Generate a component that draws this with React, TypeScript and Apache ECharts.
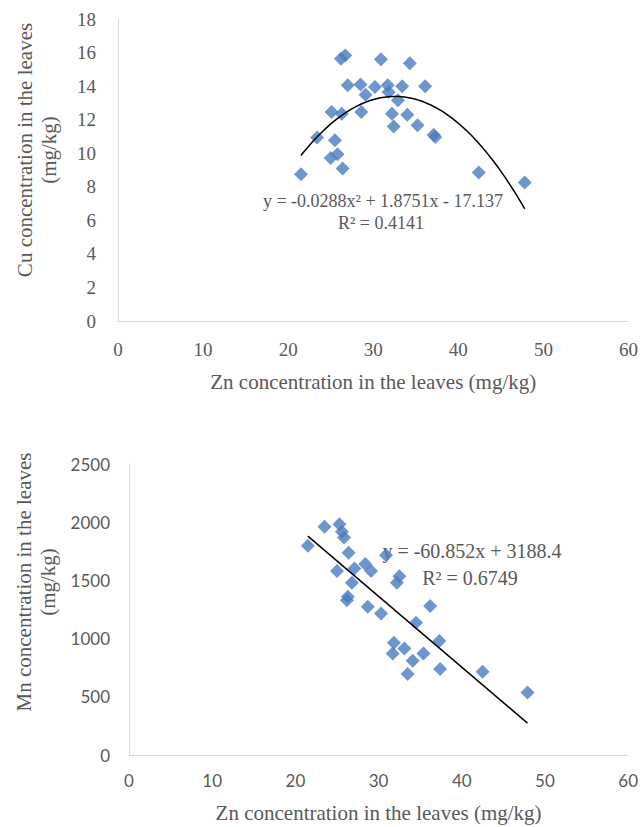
import React, { useEffect, useRef } from "react";
import * as echarts from "echarts";

const xTickMax = 60;
const xTickStep = 10;
const cuTickMax = 18;
const cuTickStep = 2;
const mnTickMax = 2500;
const mnTickStep = 500;

const cuZn = [21.5, 23.4, 25.1, 26.3, 25.5, 25.0, 25.8, 26.4, 26.2, 26.7, 27.0, 28.5, 29.1, 28.6, 30.2, 30.9, 34.3, 31.7, 31.8, 33.4, 32.9, 36.1, 32.2, 34.0, 32.4, 35.2, 37.1, 37.3, 42.4, 47.8];
const cuValues = [8.75, 10.93, 12.46, 12.36, 10.77, 9.72, 9.94, 9.09, 15.63, 15.83, 14.05, 14.09, 13.48, 12.46, 13.95, 15.6, 15.37, 14.05, 13.65, 13.99, 13.15, 13.99, 12.36, 12.3, 11.6, 11.67, 11.1, 10.97, 8.85, 8.25];

const mnZn = [21.5, 23.5, 25.3, 25.6, 25.85, 26.4, 25.0, 27.1, 28.4, 29.1, 26.8, 26.3, 26.2, 28.7, 30.3, 30.9, 32.5, 32.2, 36.2, 34.5, 37.3, 31.85, 33.1, 31.7, 35.4, 34.1, 33.5, 37.4, 42.5, 47.9];
const mnValues = [1797, 1960, 1983, 1917, 1869, 1737, 1580, 1603, 1640, 1580, 1479, 1359, 1330, 1273, 1216, 1717, 1536, 1479, 1279, 1136, 979, 964, 916, 873, 873, 809, 695, 738, 715, 538];

// trendline coefficients (highest power first), as shown on the chart
const cuFit = [-0.0288, 1.8751, -17.137];
const mnFit = [-60.852, 3188.4];

const cuEquation = "y = -0.0288x² + 1.8751x - 17.137";
const cuR2 = "R² = 0.4141";
const mnEquation = "y = -60.852x + 3188.4";
const mnR2 = "R² = 0.6749";

const xTitle = "Zn concentration in the leaves (mg/kg)";
const cuTitle = "Cu concentration in the leaves\n(mg/kg)";
const mnTitle = "Mn concentration in the leaves\n(mg/kg)";

function polyval(c: number[], x: number) {
  return c.reduce((acc, k) => acc * x + k, 0);
}
function fitLine(c: number[], xs: number[], steps: number) {
  const lo = Math.min(...xs);
  const hi = Math.max(...xs);
  const out: number[][] = [];
  for (let i = 0; i <= steps; i++) {
    const x = lo + ((hi - lo) * i) / steps;
    out.push([x, polyval(c, x)]);
  }
  return out;
}

const SERIF = "'Liberation Serif', 'Times New Roman', serif";
const SANS = "Lato, 'Open Sans', sans-serif";
const GREY = "#595959";
const AXIS = "#d9d9d9";
const BLUE = "#4a7cc0";

export default function App() {
  const ref = useRef<HTMLDivElement>(null);
  useEffect(() => {
    if (!ref.current) return;
    const chart = echarts.init(ref.current, undefined, { renderer: "svg" });
    const axisCommon = {
      axisLine: { show: true, lineStyle: { color: AXIS, width: 1 } },
      axisTick: { show: false },
      splitLine: { show: false },
    };
    chart.setOption({
      animation: false,
      backgroundColor: "#ffffff",
      grid: [
        { left: 118, top: 19, width: 512, height: 302 },
        { left: 129, top: 464, width: 503, height: 291 },
      ],
      xAxis: [
        {
          gridIndex: 0, type: "value", min: 0, max: xTickMax, interval: xTickStep,
          ...axisCommon,
          axisLabel: { color: GREY, fontFamily: SERIF, fontSize: 19, margin: 19 },
          name: xTitle, nameLocation: "middle", nameGap: 50,
          nameTextStyle: { color: GREY, fontFamily: SERIF, fontSize: 21 },
        },
        {
          gridIndex: 1, type: "value", min: 0, max: xTickMax, interval: xTickStep,
          ...axisCommon,
          axisLabel: { color: GREY, fontFamily: SANS, fontSize: 17, margin: 17 },
          name: xTitle, nameLocation: "middle", nameGap: 47,
          nameTextStyle: { color: GREY, fontFamily: SERIF, fontSize: 21 },
        },
      ],
      yAxis: [
        {
          gridIndex: 0, type: "value", min: 0, max: cuTickMax, interval: cuTickStep,
          ...axisCommon,
          axisLabel: { color: GREY, fontFamily: SERIF, fontSize: 19, margin: 22 },
        },
        {
          gridIndex: 1, type: "value", min: 0, max: mnTickMax, interval: mnTickStep,
          ...axisCommon,
          axisLabel: {
            color: GREY, fontFamily: SANS, fontSize: 17, margin: 19,
            formatter: (v: number) => String(v),
          },
        },
      ],
      graphic: [
        {
          type: "text", x: 37, y: 150, rotation: Math.PI / 2,
          style: { text: cuTitle, fill: GREY, font: `21px ${SERIF}`, align: "center", verticalAlign: "middle", lineHeight: 24 },
        },
        {
          type: "text", x: 36, y: 582, rotation: Math.PI / 2,
          style: { text: mnTitle, fill: GREY, font: `21px ${SERIF}`, align: "center", verticalAlign: "middle", lineHeight: 24 },
        },
        {
          type: "text", x: 383, y: 201,
          style: { text: cuEquation, fill: GREY, font: `18px ${SERIF}`, align: "center", verticalAlign: "middle" },
        },
        {
          type: "text", x: 381, y: 223,
          style: { text: cuR2, fill: GREY, font: `18px ${SERIF}`, align: "center", verticalAlign: "middle" },
        },
        {
          type: "text", x: 472, y: 551,
          style: { text: mnEquation, fill: GREY, font: `20px ${SERIF}`, align: "center", verticalAlign: "middle" },
        },
        {
          type: "text", x: 470, y: 578,
          style: { text: mnR2, fill: GREY, font: `20px ${SERIF}`, align: "center", verticalAlign: "middle" },
        },
      ],
      series: [
        {
          type: "scatter", xAxisIndex: 0, yAxisIndex: 0,
          data: cuZn.map((x, i) => [x, cuValues[i]]),
          symbol: "diamond", symbolSize: 14,
          itemStyle: { color: BLUE },
        },
        {
          type: "line", xAxisIndex: 0, yAxisIndex: 0,
          data: fitLine(cuFit, cuZn, 80),
          showSymbol: false, symbol: "none", smooth: false,
          lineStyle: { color: "#000", width: 1.5 }, silent: true, z: 3,
        },
        {
          type: "scatter", xAxisIndex: 1, yAxisIndex: 1,
          data: mnZn.map((x, i) => [x, mnValues[i]]),
          symbol: "diamond", symbolSize: 14,
          itemStyle: { color: BLUE },
        },
        {
          type: "line", xAxisIndex: 1, yAxisIndex: 1,
          data: fitLine(mnFit, mnZn, 1),
          showSymbol: false, symbol: "none",
          lineStyle: { color: "#000", width: 1.5 }, silent: true, z: 3,
        },
      ],
    });
    return () => chart.dispose();
  }, []);
  return (
    <div
      ref={ref}
      style={{ position: "fixed", left: 0, top: 0, width: 641, height: 827, background: "#fff" }}
    />
  );
}
